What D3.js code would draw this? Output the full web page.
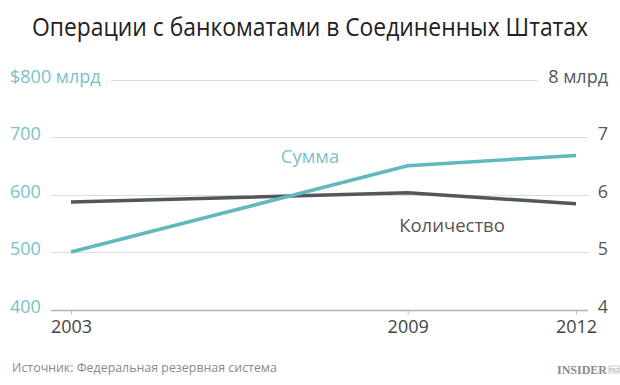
<!DOCTYPE html>
<html>
<head>
<meta charset="utf-8">
<script src="https://cdn.jsdelivr.net/npm/d3@7"></script>
<style>
  body { margin: 0; background: #fff; }
  svg { font-family: "Open Sans", "Noto Sans", sans-serif; }
</style>
</head>
<body>
<div id="chart"></div>
<script>
const years = [2003, 2009, 2012];
const amountValues = [500, 650, 668];      // $ млрд
const countValues = [5.87, 6.03, 5.84];    // млрд
const leftTicks = [400, 500, 600, 700, 800];
const rightTicks = [4, 5, 6, 7, 8];
const leftTickLabels = ['400', '500', '600', '700', '$800 млрд'];
const rightTickLabels = ['4', '5', '6', '7', '8 млрд'];

const width = 620, height = 385;
const TEAL = '#5fb9bd', TEAL_TEXT = '#79c2c5', DARK = '#52585a';

const svg = d3.select('#chart').append('svg')
    .attr('width', width)
    .attr('height', height);

const x = d3.scaleLinear().domain([2003, 2012]).range([71, 576]);
const yLeft = d3.scaleLinear().domain([400, 800]).range([309.5, 79.5]);
const yRight = d3.scaleLinear().domain([4, 8]).range([309.5, 79.5]);

// title (squeezed a bit, the original font is narrower)
svg.append('text')
    .attr('transform', `translate(${width / 2},36) scale(0.88,1)`)
    .attr('text-anchor', 'middle')
    .attr('font-size', 26)
    .attr('fill', '#222')
    .text('Операции с банкоматами в Соединенных Штатах');

const gridG = svg.append('g');

// axis labels (left / right)
const leftLabels = svg.append('g').selectAll('text')
    .data(leftTicks)
    .join('text')
    .attr('x', 10)
    .attr('y', d => yLeft(d) - 3)
    .attr('dy', '0.35em')
    .attr('font-size', 18)
    .attr('fill', TEAL_TEXT)
    .text((d, i) => leftTickLabels[i]);

const rightLabels = svg.append('g').selectAll('text')
    .data(rightTicks)
    .join('text')
    .attr('x', 608)
    .attr('y', d => yRight(d) - 3)
    .attr('dy', '0.35em')
    .attr('text-anchor', 'end')
    .attr('font-size', 18)
    .attr('fill', '#555')
    .text((d, i) => rightTickLabels[i]);

// gridlines between the labels
const leftEnds = leftLabels.nodes().map(n => 10 + n.getComputedTextLength());
const rightStarts = rightLabels.nodes().map(n => 608 - n.getComputedTextLength());
gridG.selectAll('line')
    .data(leftTicks)
    .join('line')
    .attr('x1', (d, i) => Math.round(leftEnds[i] + 10))
    .attr('x2', (d, i) => Math.round(rightStarts[i] - 10))
    .attr('y1', d => Math.round(yLeft(d)) + 0.5)
    .attr('y2', d => Math.round(yLeft(d)) + 0.5)
    .attr('stroke', (d, i) => i === 0 ? '#b0b0b0' : '#dcdcdc')
    .attr('stroke-width', (d, i) => i === 0 ? 1.5 : 1.2);

// x axis
const xAxis = d3.axisBottom(x)
    .tickValues(years)
    .tickFormat(d3.format('d'))
    .tickSize(4)
    .tickPadding(6);
const xAxisG = svg.append('g')
    .attr('transform', `translate(0,${Math.round(yLeft(400)) + 0.5})`)
    .call(xAxis);
xAxisG.select('.domain').remove();
xAxisG.selectAll('line').attr('stroke', '#c0c0c0');
xAxisG.selectAll('text')
    .style('font-family', '"Open Sans", sans-serif')
    .style('font-size', '18px')
    .attr('fill', '#444');

// lines
const amountLine = d3.line()
    .x((d, i) => x(years[i]))
    .y(d => yLeft(d));
const countLine = d3.line()
    .x((d, i) => x(years[i]))
    .y(d => yRight(d));

svg.append('path')
    .attr('d', countLine(countValues))
    .attr('fill', 'none')
    .attr('stroke', DARK)
    .attr('stroke-width', 3.5);

svg.append('path')
    .attr('d', amountLine(amountValues))
    .attr('fill', 'none')
    .attr('stroke', TEAL)
    .attr('stroke-width', 3.5);

// series labels
svg.append('text')
    .attr('x', 310)
    .attr('y', 157)
    .attr('dy', '0.35em')
    .attr('text-anchor', 'middle')
    .attr('font-size', 18.5)
    .attr('fill', TEAL_TEXT)
    .text('Сумма');

svg.append('text')
    .attr('x', 452)
    .attr('y', 226)
    .attr('dy', '0.35em')
    .attr('text-anchor', 'middle')
    .attr('font-size', 18.5)
    .attr('fill', '#555')
    .text('Количество');

// footer
svg.append('text')
    .attr('x', 12)
    .attr('y', 368)
    .attr('dy', '0.35em')
    .attr('font-size', 12.4)
    .attr('fill', '#8a8a8a')
    .text('Источник: Федеральная резервная система');

const logo = svg.append('g').attr('transform', 'translate(557,374)');
logo.append('text')
    .style('font-family', '"Liberation Serif", "DejaVu Serif", serif')
    .attr('font-weight', 'bold')
    .attr('font-size', 12)
    .attr('fill', '#8a8a8a')
    .text('INSIDER');
logo.append('rect')
    .attr('x', 52).attr('y', -8)
    .attr('width', 10).attr('height', 7)
    .attr('fill', 'none')
    .attr('stroke', '#aaa')
    .attr('stroke-width', 0.6);
logo.append('text')
    .attr('x', 57).attr('y', -2.5)
    .attr('text-anchor', 'middle')
    .attr('font-size', 5)
    .attr('fill', '#999')
    .text('PRO');
</script>
</body>
</html>
